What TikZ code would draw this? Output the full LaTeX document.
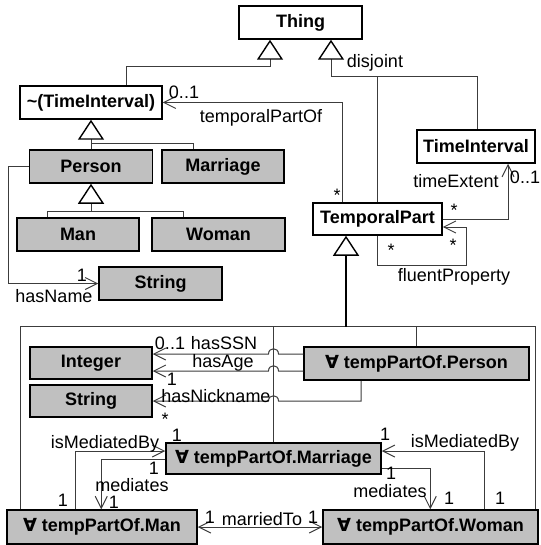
\documentclass[tikz,border=0pt]{standalone}
\usepackage{fontspec}
\setmainfont{Liberation Sans}
\newfontfamily\symfont{DejaVu Sans}
\usetikzlibrary{arrows.meta,calc}
\definecolor{boxgray}{RGB}{192,192,192}
\definecolor{linegray}{RGB}{60,60,60}
\newcommand{\allsym}{{\symfont\bfseries ∀}}
\begin{document}
\begin{tikzpicture}[x=1pt,y=-1pt,
  cls/.style={draw=black, line width=1.5pt, fill=white, inner sep=0pt,
    font=\bfseries\fontsize{18}{20}\selectfont},
  gcls/.style={cls, fill=boxgray},
  lnk/.style={draw=linegray, line width=1pt},
  barb/.tip={Straight Barb[length=12pt,width=12pt,line width=1pt]},
  assoc/.style={lnk, -barb},
  gen/.style={lnk, -{Triangle[length=20pt,width=26pt,line width=1.4pt,color=black,fill=white]}},
  lbl/.style={font=\fontsize{18}{20}\selectfont, inner sep=0pt}]
\fill[white] (0,0) rectangle (540,545);
\useasboundingbox (0,0) rectangle (540,545);

% ---- classes ----
\node[cls, minimum width=123pt, minimum height=33pt] (thing) at (300.5,22.5) {Thing};
\node[cls, minimum width=142pt, minimum height=33pt] (ti) at (91,102.5) {\textasciitilde(TimeInterval)};
\node[gcls, minimum width=123pt, minimum height=33pt] (person) at (91,166.5) {Person};
\node[gcls, minimum width=122pt, minimum height=33pt] (marriage) at (223,166.5) {Marriage};
\node[gcls, minimum width=122pt, minimum height=33pt] (man) at (78,234.5) {Man};
\node[gcls, minimum width=133pt, minimum height=33pt] (woman) at (218.5,234.5) {Woman};
\node[gcls, minimum width=123pt, minimum height=33pt] (strA) at (160.5,283.5) {String};
\node[cls, minimum width=118pt, minimum height=33pt] (timeint) at (476,146.5) {TimeInterval};
\node[cls, minimum width=129pt, minimum height=32pt] (tp) at (377.5,219) {TemporalPart};
\node[gcls, minimum width=225pt, minimum height=33pt] (tpPer) at (416.5,363.5) {\allsym\ tempPartOf.Person};
\node[gcls, minimum width=122pt, minimum height=32pt] (integer) at (91,363) {Integer};
\node[gcls, minimum width=122pt, minimum height=32pt] (strB) at (91,401) {String};
\node[gcls, minimum width=215pt, minimum height=31pt] (tpMar) at (273.5,458.5) {\allsym\ tempPartOf.Marriage};
\node[gcls, minimum width=190pt, minimum height=34pt] (tpMan) at (102,527) {\allsym\ tempPartOf.Man};
\node[gcls, minimum width=215pt, minimum height=34pt] (tpWoman) at (430.5,527) {\allsym\ tempPartOf.Woman};

% ---- generalizations under Thing ----
\coordinate (jL) at ($(thing.south)+(-30.5,27)$);
\coordinate (jR) at ($(thing.south)+(30.5,37)$);
\draw[gen] ($(ti.north)+(35,0)$) |- (jL) -- (jL |- thing.south);
\draw[gen] ($(timeint.north)+(1,0)$) |- (jR) -- (jR |- thing.south);
\draw[lnk] (tp.north) |- (jR);
\node[lbl] (ldisj) at (375,63) {disjoint};

% ---- Person / Marriage under ~(TimeInterval) ----
\coordinate (jP) at ($(ti.south)+(0,24)$);
\draw[lnk] ($(marriage.north)+(-30,0)$) |- (jP);
\draw[gen] (person.north) -- (ti.south);

% ---- Man / Woman under Person ----
\coordinate (jM) at ($(person.south)+(0,28)$);
\draw[lnk] ($(man.north)+(-31,0)$) |- (jM);
\draw[gen] ($(woman.north)+(-35.5,0)$) |- (jM) -- (person.south);

% ---- hasName ----
\draw[assoc] (person.west) -- ++(-20,0) |- (strA.west);
\node[lbl] (lnm1) at (82,275) {1};
\node[lbl] (lnm) at (54,296) {hasName};

% ---- temporalPartOf ----
\draw[assoc] ($(tp.north west)+(30,0)$) |- (ti.east);
\node[lbl] (ltp01) at (184,92) {0..1};
\node[lbl] (ltp) at (261,118) {temporalPartOf};
\node[lbl] (ltps) at (337,195) {*};

% ---- timeExtent ----
\draw[assoc] (tp.east) -| ($(timeint.south)+(32,0)$);
\node[lbl] (lte) at (456,181) {timeExtent};
\node[lbl] (lte01) at (525,177) {0..1};
\node[lbl] (ltes) at (454,210) {*};

% ---- fluentProperty (self loop) ----
\draw[assoc] (tp.south) |- ($(tp.south east)+(24,30)$) |- ($(tp.east)+(0,8)$);
\node[lbl] (lfs1) at (391,250) {*};
\node[lbl] (lfs2) at (453,245) {*};
\node[lbl] (lfp) at (454,277) {fluentProperty};

% ---- generalization of the restriction classes ----
\coordinate (hub) at ($(tp.south)+(-31.5,91)$);
\coordinate (brL) at ($(tpMan.north west)+(14,0)$);
\coordinate (brR) at ($(tpWoman.north east)+(-3,0)$);
\draw[lnk] (brL) |- (hub) -| (brR);
\draw[lnk] (tpMar.north) -- (tpMar.north |- hub);
\draw[lnk] (tpPer.north) -- (tpPer.north |- hub);
\draw[gen, draw=black, line width=2pt] (hub) -- (hub |- tp.south);

% ---- hasSSN / hasAge / hasNickname (hopping over the tree line) ----
\coordinate (ssnA) at ($(tpPer.west)+(0,-9.5)$);
\coordinate (ssnX) at (ssnA -| tpMar.north);
\draw[assoc] (ssnA) -- ($(ssnX)+(5,0)$) .. controls +(0,-7) and +(0,-7) .. ($(ssnX)+(-5,0)$) -- (ssnA -| integer.east);
\coordinate (ageA) at ($(tpPer.west)+(0,7.5)$);
\coordinate (ageX) at (ageA -| tpMar.north);
\draw[assoc] (ageA) -- ($(ageX)+(5,0)$) .. controls +(0,-7) and +(0,-7) .. ($(ageX)+(-5,0)$) -- (ageA -| integer.east);
\coordinate (nckA) at ($(tpPer.south)+(-55.5,0)$);
\coordinate (nckX) at (strB.east -| tpMar.north);
\draw[assoc] (nckA) |- ($(nckX)+(5,0)$) .. controls +(0,-7) and +(0,-7) .. ($(nckX)+(-5,0)$) -- (strB.east);
\node[lbl] (lssn01) at (170,343) {0..1};
\node[lbl] (lssn) at (224,343) {hasSSN};
\node[lbl] (lage) at (223,363) {hasAge};
\node[lbl] (lage1) at (172,379) {1};
\node[lbl] (lnck) at (216,396) {hasNickname};
\node[lbl] (lncks) at (165,419) {*};

% ---- isMediatedBy / mediates ----
\draw[assoc] ($(tpMan.north west)+(69,0)$) |- ($(tpMar.west)+(0,-7.5)$);
\draw[assoc] ($(tpMar.west)+(0,0.5)$) -| ($(tpMan.north west)+(95,0)$);
\draw[assoc] ($(tpWoman.north west)+(162,0)$) |- ($(tpMar.east)+(0,-7.5)$);
\draw[assoc] ($(tpMar.east)+(0,9.5)$) -| ($(tpWoman.north west)+(108,0)$);
\node[lbl] (lmbL) at (105,444) {isMediatedBy};
\node[lbl] (lmbL1) at (177,435) {1};
\node[lbl] (lmdL1) at (154,468) {1};
\node[lbl] (lmdL) at (132,485) {mediates};
\node[lbl] (lmbL2) at (63,500) {1};
\node[lbl] (lmdL2) at (114,502) {1};
\node[lbl] (lmbR) at (465,443) {isMediatedBy};
\node[lbl] (lmbR1) at (385,434) {1};
\node[lbl] (lmdR1) at (391,473) {1};
\node[lbl] (lmdR) at (390,491) {mediates};
\node[lbl] (lmdR2) at (449,498) {1};
\node[lbl] (lmbR2) at (500,498) {1};

% ---- marriedTo ----
\draw[lnk, barb-barb] (tpMan.east) -- (tpWoman.west);
\node[lbl] (lmt1) at (210,517) {1};
\node[lbl] (lmt) at (262,519) {marriedTo};
\node[lbl] (lmt2) at (313,517) {1};
\end{tikzpicture}
\end{document}
